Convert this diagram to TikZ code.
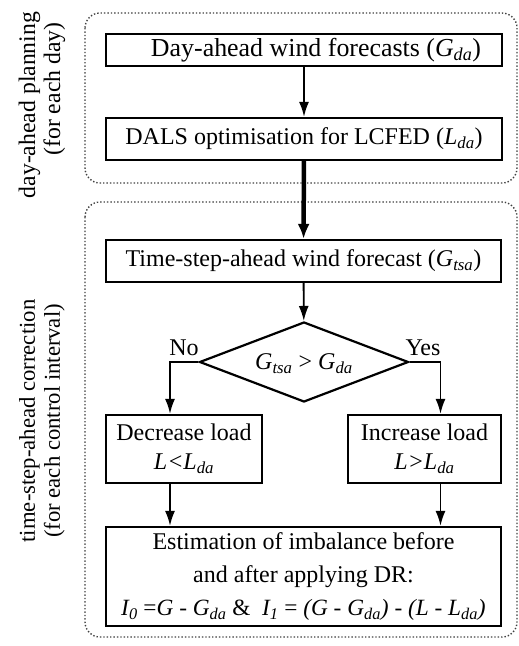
\documentclass[tikz,border=0pt]{standalone}
\usepackage{fontspec}
\setmainfont{Liberation Serif}
\usetikzlibrary{shapes.geometric,arrows.meta}
\newcommand{\mysub}[1]{\textsubscript{\textit{#1}}}
\begin{document}
\begin{tikzpicture}[x=1pt,y=-1pt,
  every node/.style={font=\fontsize{24}{28}\selectfont},
  box/.style={draw,line width=2.2pt,inner sep=0pt,align=center},
  group/.style={draw=black!75,dotted,line width=1.4pt,rounded corners=15pt},
  arr/.style={line width=1.8pt,-{Latex[length=15pt,width=10pt]}},
  thickarr/.style={line width=4.5pt,-{Latex[length=15pt,width=12pt]}},
  side/.style={rotate=90,align=center}]
\useasboundingbox (0,0) rectangle (519,646);
% groups
\draw[group] (85,13) rectangle (517,183);
\draw[group] (85,202) rectangle (517,637);
\node[side,font=\fontsize{23.7}{25}\selectfont] (lab1) at (42,105) {day-ahead planning\\\hspace*{32pt}(for each day)};
\node[side,font=\fontsize{22.7}{25}\selectfont] (lab2) at (42,421) {time-step-ahead correction\\(for each control interval)};
% boxes
\node[box,minimum width=396pt,minimum height=32pt,font=\fontsize{25.9}{28}\selectfont] (da) at (304,50) {\hspace*{24pt}Day-ahead wind forecasts (\textit{G}\mysub{da})};
\node[box,minimum width=396pt,minimum height=42pt] (dals) at (304,139) {DALS optimisation for LCFED (\textit{L}\mysub{da})};
\node[box,minimum width=395pt,minimum height=42pt] (tsa) at (303.5,261) {Time-step-ahead wind forecast (\textit{G}\mysub{tsa})};
\node[draw,line width=2.2pt,shape=diamond,inner sep=0pt,minimum width=209pt,minimum height=80pt] (dia) at (304,362) {};
\node (diat) at (304,364) {\textit{G}\mysub{tsa} > \textit{G}\mysub{da}};
\node[box,minimum width=156pt,minimum height=68pt,font=\fontsize{24}{29}\selectfont] (dec) at (184,449) {Decrease load\\\textit{L<L}\mysub{da}};
\node[box,minimum width=153pt,minimum height=68pt,font=\fontsize{24}{29}\selectfont] (inc) at (424.5,449) {Increase load\\\textit{L>L}\mysub{da}};
\node[box,minimum width=395pt,minimum height=99pt,font=\fontsize{24}{33}\selectfont] (est) at (303.5,576.5) {Estimation of imbalance before\\and after applying DR:\\{\fontsize{23.3}{33}\selectfont\textit{I\textsubscript{0}} =\textit{G} - \textit{G}\mysub{da} \& \ \textit{I\textsubscript{1}} = \textit{(G} - \textit{G}\mysub{da}\textit{)} - \textit{(L} - \textit{L}\mysub{da}\textit{)}}};
% labels
\node (no) at (184,348) {No};
\node (yes) at (423,348) {Yes};
% connectors
\draw[arr] (da) -- (dals);
\draw[thickarr] (dals) -- (tsa);
\draw[arr] (tsa) -- (dia);
\draw[arr] (dia.west) -| ([xshift=-14pt]dec.north);
\draw[arr] (dia.east) -| ([xshift=16pt]inc.north);
\draw[arr] ([xshift=-14pt]dec.south) -- ([xshift=-14pt]dec.south |- est.north);
\draw[arr] ([xshift=16pt]inc.south) -- ([xshift=16pt]inc.south |- est.north);
\end{tikzpicture}
\end{document}
